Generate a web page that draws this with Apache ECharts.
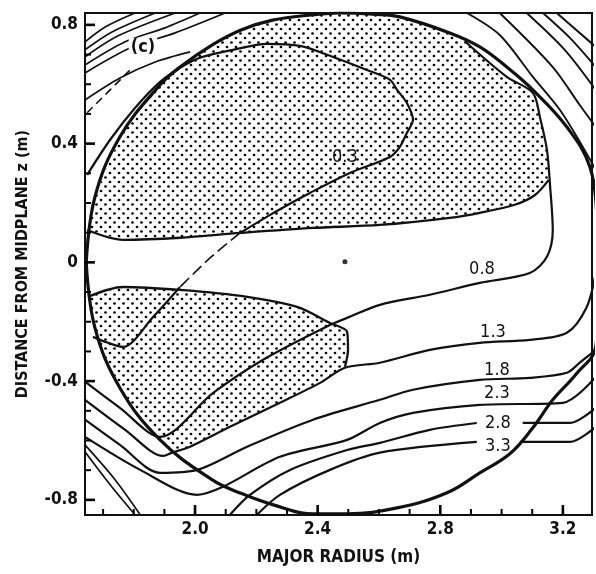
<!DOCTYPE html>
<html>
<head>
<meta charset="utf-8">
<script src="https://cdn.jsdelivr.net/npm/echarts@6/dist/echarts.min.js"></script>
<style>
  html, body { margin: 0; background: #fff; }
  #chart { width: 596px; height: 574px; }
</style>
</head>
<body>
<div id="chart"></div>
<script>
// axis ranges and ticks
const xMin = 1.641, xMax = 3.295;
const yMin = -0.851, yMax = 0.840;
const xTicks = [2.0, 2.4, 2.8, 3.2];
const xMinor = [1.7, 1.8, 1.9, 2.1, 2.2, 2.3, 2.5, 2.6, 2.7, 2.9, 3.0, 3.1];
const yTicks = [-0.8, -0.4, 0, 0.4, 0.8];
const yMinor = [-0.7, -0.6, -0.5, -0.3, -0.2, -0.1, 0.1, 0.2, 0.3, 0.5, 0.6, 0.7];

// plasma boundary (R, z)
const boundary = [
  [1.645, 0], [1.673, 0.219], [1.755, 0.423], [1.885, 0.597], [1.951, 0.658], [2.055, 0.732],
  [2.150, 0.783], [2.253, 0.816], [2.385, 0.834], [2.473, 0.840], [2.580, 0.836], [2.668, 0.827],
  [2.831, 0.773], [2.929, 0.726], [3.017, 0.658], [3.102, 0.581], [3.213, 0.456], [3.288, 0.322],
  [3.312, 0.15], [3.320, 0], [3.315, -0.15], [3.307, -0.285], [3.240, -0.38], [3.167, -0.463],
  [3.100, -0.56], [3.027, -0.645], [2.929, -0.709], [2.822, -0.776], [2.659, -0.827],
  [2.496, -0.847], [2.385, -0.847], [2.253, -0.816], [2.150, -0.778], [2.055, -0.732],
  [1.885, -0.597], [1.755, -0.423], [1.673, -0.219], [1.645, 0]
];

// stippled regions
const upperShade = [
  [1.652, 0.103], [1.673, 0.219], [1.755, 0.423], [1.885, 0.597], [1.951, 0.658], [2.055, 0.732],
  [2.150, 0.783], [2.253, 0.816], [2.385, 0.834], [2.473, 0.840], [2.580, 0.836], [2.668, 0.827],
  [2.831, 0.773], [2.88, 0.745], [3.017, 0.625], [3.102, 0.571], [3.125, 0.490], [3.148, 0.379],
  [3.154, 0.278], [3.109, 0.227], [3.043, 0.194], [2.929, 0.167], [2.831, 0.150], [2.603, 0.126],
  [2.385, 0.116], [2.147, 0.099], [1.951, 0.083], [1.765, 0.076], [1.648, 0.109]
];
const lowerShade = [
  [1.651, -0.116], [1.765, -0.083], [1.951, -0.093], [2.170, -0.116], [2.333, -0.150],
  [2.440, -0.204], [2.496, -0.234], [2.499, -0.295], [2.489, -0.352], [2.408, -0.406],
  [2.277, -0.473], [2.114, -0.554], [1.984, -0.621], [1.925, -0.641], [1.885, -0.597],
  [1.80, -0.49], [1.755, -0.423], [1.70, -0.30], [1.673, -0.219], [1.655, -0.13]
];

// contour lines
const upperEdge = [
  [1.648, 0.109], [1.765, 0.076], [1.951, 0.083], [2.147, 0.099], [2.385, 0.116], [2.603, 0.126],
  [2.831, 0.150], [2.929, 0.167], [3.043, 0.194], [3.109, 0.227], [3.154, 0.278]
];
const lowerEdge = [
  [1.651, -0.116], [1.765, -0.083], [1.951, -0.093], [2.170, -0.116], [2.333, -0.150],
  [2.440, -0.204], [2.496, -0.234], [2.499, -0.295], [2.489, -0.352]
];
const c03 = [
  [1.648, 0.295], [1.723, 0.413], [1.804, 0.520], [1.886, 0.608], [1.951, 0.655], [2.016, 0.689],
  [2.124, 0.716], [2.235, 0.736], [2.342, 0.729], [2.450, 0.692], [2.561, 0.648], [2.636, 0.615],
  [2.659, 0.581], [2.691, 0.537], [2.711, 0.480], [2.691, 0.436], [2.668, 0.389], [2.636, 0.355],
  [2.505, 0.301], [2.375, 0.234], [2.333, 0.211], [2.245, 0.160], [2.147, 0.099]
];
const c03Dash = [[2.147, 0.099], [2.049, 0.015], [1.951, -0.083]];
const c03Tail = [[1.951, -0.083], [1.863, -0.184], [1.765, -0.285], [1.716, -0.271], [1.667, -0.251]];
const c08 = [
  [2.88, 0.745], [3.017, 0.625], [3.102, 0.571], [3.125, 0.490], [3.148, 0.379], [3.158, 0.261],
  [3.167, 0.109], [3.148, 0.019], [3.092, -0.036], [2.929, -0.069], [2.766, -0.109], [2.603, -0.143],
  [2.496, -0.187], [2.440, -0.211], [2.222, -0.328], [2.059, -0.440], [1.886, -0.588],
  [1.755, -0.490], [1.641, -0.402]
];
const c13 = [
  [3.307, -0.036], [3.278, -0.150], [3.213, -0.237], [3.092, -0.261], [2.929, -0.271],
  [2.766, -0.295], [2.603, -0.338], [2.489, -0.355], [2.408, -0.406], [2.277, -0.473],
  [2.114, -0.554], [1.984, -0.621], [1.925, -0.641], [1.896, -0.652], [1.772, -0.564], [1.641, -0.463]
];
const c18 = [
  [1.641, -0.530], [1.755, -0.615], [1.886, -0.709], [2.007, -0.699], [2.170, -0.621],
  [2.385, -0.530], [2.603, -0.463], [2.711, -0.429], [2.929, -0.396], [3.092, -0.389],
  [3.213, -0.372], [3.255, -0.338], [3.307, -0.295]
];
const c23 = [
  [1.641, -0.588], [1.821, -0.699], [2.007, -0.783], [2.091, -0.756], [2.277, -0.655],
  [2.496, -0.598], [2.603, -0.541], [2.711, -0.507], [2.929, -0.480], [3.200, -0.473], [3.307, -0.386]
];
const c28Left = [[1.641, -0.615], [1.739, -0.732], [1.821, -0.850]];
const c28 = [
  [2.114, -0.850], [2.179, -0.783], [2.310, -0.699], [2.496, -0.632], [2.603, -0.608],
  [2.766, -0.564], [2.919, -0.541]
];
const c28Right = [[3.069, -0.541], [3.223, -0.541], [3.307, -0.490]];
const c33Left = [[1.641, -0.638], [1.723, -0.749], [1.804, -0.850]];
const c33 = [[2.202, -0.850], [2.277, -0.783], [2.440, -0.699], [2.603, -0.641], [2.919, -0.605]];
const c33Right = [[3.060, -0.605], [3.223, -0.605], [3.307, -0.554]];

// contours outside the boundary, top corners
const topLeft = [
  [[1.641, 0.743], [1.707, 0.793], [1.804, 0.840]],
  [[1.641, 0.716], [1.729, 0.776], [1.870, 0.840]],
  [[1.641, 0.692], [1.749, 0.763], [1.935, 0.840]],
  [[1.641, 0.665], [1.772, 0.743], [1.902, 0.790], [2.016, 0.840]],
  [[1.641, 0.638], [1.788, 0.722], [1.935, 0.773], [2.098, 0.840]],
  [[1.641, 0.547], [1.755, 0.621], [1.870, 0.675], [1.984, 0.709]]
];
const topLeftDash = [[1.648, 0.504], [1.788, 0.648]];
const topRight = [
  [[2.887, 0.840], [2.994, 0.766], [3.102, 0.625], [3.190, 0.514], [3.265, 0.389], [3.307, 0.312]],
  [[2.994, 0.840], [3.167, 0.658], [3.255, 0.530], [3.307, 0.456]],
  [[3.082, 0.840], [3.206, 0.716], [3.307, 0.581]],
  [[3.135, 0.840], [3.223, 0.756], [3.307, 0.658]],
  [[3.180, 0.840], [3.307, 0.726]]
];

const axisDot = [[2.489, 0.002]];
const labelNames = ['0.3', '0.8', '1.3', '1.8', '2.3', '2.8', '3.3'];
const labelR = [2.489, 2.936, 2.972, 2.985, 2.985, 2.988, 2.988];
const labelZ = [0.355, -0.025, -0.237, -0.362, -0.440, -0.541, -0.621];
const panelTag = [[1.830, 0.726, '(c)']];

// stipple pattern
const tile = document.createElement('canvas');
tile.width = 9; tile.height = 9;
const tctx = tile.getContext('2d');
tctx.fillStyle = '#000';
tctx.beginPath(); tctx.arc(2, 2, 1.35, 0, Math.PI * 2); tctx.fill();
tctx.beginPath(); tctx.arc(6.5, 6.5, 1.35, 0, Math.PI * 2); tctx.fill();
const dots = { image: tile, repeat: 'repeat' };

const font = 'DejaVu Sans Condensed';

function shade(points) {
  return {
    type: 'custom',
    clip: true,
    silent: true,
    z: 1,
    data: points,
    renderItem: function (params, api) {
      if (params.dataIndex !== 0) return null;
      return {
        type: 'polygon',
        shape: { points: points.map(p => api.coord(p)) },
        style: { fill: dots, stroke: null }
      };
    }
  };
}

function line(data, width, opts) {
  return Object.assign({
    type: 'line', data: data, symbol: 'none', showSymbol: false, smooth: 0.3,
    silent: true, z: 3, lineStyle: { color: '#111', width: width }
  }, opts || {});
}

function texts(items, weight, boxed) {
  return {
    type: 'custom',
    silent: true,
    z: 6,
    data: items,
    renderItem: function (params, api) {
      const p = api.coord([api.value(0), api.value(1)]);
      const item = items[params.dataIndex];
      return {
        type: 'text',
        x: p[0], y: p[1],
        style: {
          text: item[2], fill: '#111', font: weight + ' 18px "' + font + '"',
          align: 'center', verticalAlign: 'middle',
          backgroundColor: boxed ? '#fff' : null, padding: boxed ? [0, 2] : 0
        }
      };
    }
  };
}

const series = [
  shade(upperShade),
  shade(lowerShade),
  line(boundary, 3.2, { smooth: 0.4 }),
  line(upperEdge, 2.3),
  line(lowerEdge, 2.3),
  line(c03, 2.2),
  line(c03Dash, 1.6, { lineStyle: { color: '#111', width: 1.6, type: [12, 5] } }),
  line(c03Tail, 2.2),
  line(c08, 2.2),
  line(c13, 2.2),
  line(c18, 2.2),
  line(c23, 2.2),
  line(c28Left, 1.7),
  line(c28, 2.2),
  line(c28Right, 2.2),
  line(c33Left, 1.7),
  line(c33, 2.2),
  line(c33Right, 2.2),
  line(topLeftDash, 1.6, { lineStyle: { color: '#111', width: 1.6, type: [8, 5] } })
];
topLeft.forEach(d => series.push(line(d, 1.7)));
topRight.forEach(d => series.push(line(d, 1.9)));

series.push({
  type: 'scatter', data: axisDot, symbolSize: 5, itemStyle: { color: '#000' }, z: 4, silent: true
});
series.push(texts(labelNames.map((n, i) => [labelR[i], labelZ[i], n]), 'normal', false));
series.push(texts(panelTag, 'bold', true));

const chart = echarts.init(document.getElementById('chart'));
chart.setOption({
  animation: false,
  backgroundColor: '#fff',
  grid: {
    left: 85, right: 4, top: 13, bottom: 59,
    show: true, borderColor: '#111', borderWidth: 2
  },
  xAxis: {
    type: 'value', min: xMin, max: xMax, position: 'bottom',
    axisLine: { show: true, onZero: false, lineStyle: { color: '#111', width: 2 } },
    axisTick: { show: false },
    axisLabel: {
      customValues: xTicks, formatter: v => v.toFixed(1), margin: 6,
      fontFamily: font, fontWeight: 'bold', fontSize: 17, color: '#111'
    },
    splitLine: { show: false },
    name: 'MAJOR RADIUS (m)', nameLocation: 'middle', nameGap: 34,
    nameTextStyle: { fontFamily: font, fontWeight: 'bold', fontSize: 17, color: '#111' }
  },
  yAxis: {
    type: 'value', min: yMin, max: yMax, position: 'left',
    axisLine: { show: true, onZero: false, lineStyle: { color: '#111', width: 2 } },
    axisTick: { show: false },
    axisLabel: {
      customValues: yTicks, formatter: v => (v === 0 ? '0' : v.toFixed(1)), margin: 7,
      fontFamily: font, fontWeight: 'bold', fontSize: 17, color: '#111'
    },
    splitLine: { show: false },
    name: 'DISTANCE FROM MIDPLANE z (m)', nameLocation: 'middle', nameGap: 54, nameRotate: 90,
    nameTextStyle: { fontFamily: font, fontWeight: 'bold', fontSize: 16, color: '#111' }
  },
  series: series
});

// inward tick marks placed at the axis scale positions of the tick values
const tickGraphics = [];
[[xTicks, true, 10, 2.6], [xMinor, true, 6, 2], [yTicks, false, 10, 2.6], [yMinor, false, 6, 2]].forEach(function (set) {
  set[0].forEach(function (v) {
    const p = chart.convertToPixel({ gridIndex: 0 }, set[1] ? [v, yMin] : [xMin, v]);
    tickGraphics.push({
      type: 'line', z: 100,
      shape: set[1] ? { x1: p[0], y1: p[1], x2: p[0], y2: p[1] - set[2] } : { x1: p[0], y1: p[1], x2: p[0] + set[2], y2: p[1] },
      style: { stroke: '#000', lineWidth: set[3] }
    });
  });
});
chart.setOption({ graphic: tickGraphics });
</script>
</body>
</html>
